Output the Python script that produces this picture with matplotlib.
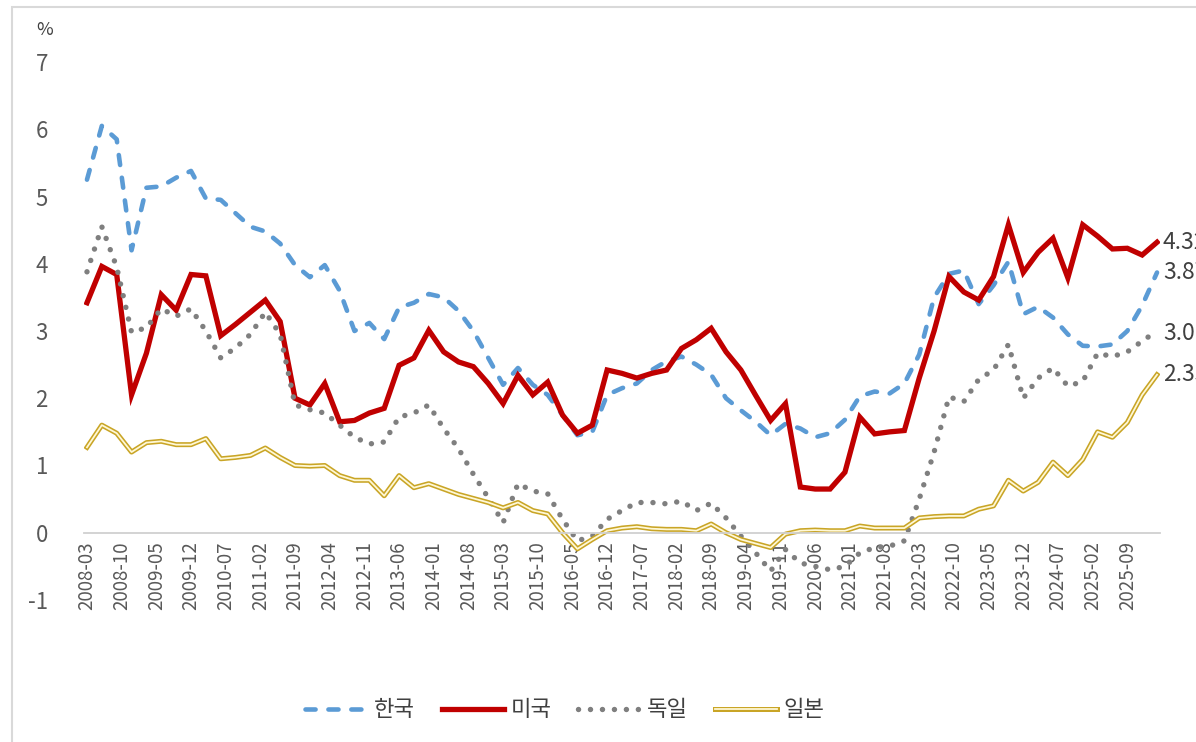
import numpy as np
import matplotlib
matplotlib.use("Agg")
import matplotlib.pyplot as plt
from matplotlib.patches import Rectangle
from matplotlib.legend_handler import HandlerTuple

plt.rcParams['font.family'] = ['Noto Sans CJK KR', 'DejaVu Sans']
plt.rcParams['axes.unicode_minus'] = False

# 분기별 국채 10년물 금리 (%), 2008-03 부터 3개월 간격
months = np.arange(0, 217, 3)

korea = [5.25, 6.05, 5.85, 4.2, 5.13, 5.15, 5.28, 5.38, 4.97, 4.95,
         4.75, 4.55, 4.48, 4.3, 3.98, 3.8, 3.98, 3.6, 3.0, 3.12,
         2.88, 3.35, 3.42, 3.55, 3.5, 3.3, 3.0, 2.6, 2.2, 2.45,
         2.2, 2.05, 1.75, 1.45, 1.5, 2.05, 2.15, 2.22, 2.42, 2.55,
         2.62, 2.5, 2.35, 2.0, 1.82, 1.65, 1.45, 1.62, 1.55, 1.42,
         1.48, 1.68, 2.03, 2.1, 2.07, 2.22, 2.65, 3.5, 3.85, 3.9,
         3.4, 3.68, 4.03, 3.25, 3.36, 3.2, 2.95, 2.78, 2.77, 2.8,
         3.0, 3.38, 3.87]

usa = [3.42, 3.96, 3.84, 2.05, 2.67, 3.54, 3.31, 3.84, 3.82, 2.93,
       3.1, 3.28, 3.46, 3.14, 2.0, 1.9, 2.22, 1.65, 1.67, 1.78,
       1.85, 2.49, 2.6, 3.01, 2.69, 2.54, 2.47, 2.22, 1.92, 2.34,
       2.05, 2.24, 1.75, 1.48, 1.6, 2.42, 2.37, 2.3, 2.37, 2.42,
       2.74, 2.87, 3.04, 2.69, 2.42, 2.04, 1.67, 1.92, 0.68, 0.65,
       0.65, 0.9, 1.72, 1.47, 1.5, 1.52, 2.3, 3.0, 3.81, 3.58,
       3.46, 3.81, 4.58, 3.87, 4.17, 4.38, 3.79, 4.58, 4.41, 4.22,
       4.23, 4.13, 4.32]

germany = [3.88, 4.55, 3.95, 2.98, 3.05, 3.33, 3.22, 3.33, 3.0, 2.6,
           2.75, 2.95, 3.28, 2.95, 1.9, 1.83, 1.78, 1.6, 1.42, 1.32,
           1.35, 1.72, 1.78, 1.9, 1.55, 1.25, 0.87, 0.52, 0.15, 0.73,
           0.62, 0.58, 0.2, -0.12, -0.05, 0.2, 0.33, 0.45, 0.45, 0.43,
           0.47, 0.33, 0.44, 0.22, -0.05, -0.3, -0.57, -0.25, -0.45, -0.5,
           -0.55, -0.5, -0.3, -0.22, -0.2, -0.12, 0.5, 1.2, 2.02, 1.95,
           2.28, 2.42, 2.8, 2.0, 2.3, 2.45, 2.18, 2.25, 2.67, 2.62,
           2.69, 2.85, 3.0]

japan = [1.27, 1.6, 1.48, 1.2, 1.34, 1.36, 1.31, 1.31, 1.4, 1.1,
         1.12, 1.15, 1.26, 1.12, 1.0, 0.99, 1.0, 0.85, 0.78, 0.78,
         0.55, 0.85, 0.67, 0.73, 0.65, 0.57, 0.51, 0.45, 0.37, 0.45,
         0.33, 0.28, 0.0, -0.24, -0.1, 0.03, 0.07, 0.09, 0.06, 0.05,
         0.05, 0.03, 0.13, 0.0, -0.1, -0.16, -0.22, -0.02, 0.03, 0.04,
         0.03, 0.03, 0.1, 0.07, 0.07, 0.07, 0.22, 0.24, 0.25, 0.25,
         0.35, 0.4, 0.78, 0.62, 0.75, 1.05, 0.85, 1.09, 1.5, 1.42,
         1.64, 2.05, 2.35]

end_labels = ['4.32', '3.87', '3.06', '2.35']
end_label_y = [4.32, 3.87, 2.97, 2.35]

tick_labels = ['2008-03', '2008-10', '2009-05', '2009-12', '2010-07', '2011-02',
               '2011-09', '2012-04', '2012-11', '2013-06', '2014-01', '2014-08',
               '2015-03', '2015-10', '2016-05', '2016-12', '2017-07', '2018-02',
               '2018-09', '2019-04', '2019-11', '2020-06', '2021-01', '2021-08',
               '2022-03', '2022-10', '2023-05', '2023-12', '2024-07', '2025-02',
               '2025-09']
tick_pos = np.arange(len(tick_labels)) * 7

fig = plt.figure(figsize=(11.96, 7.42), dpi=100)
ax = fig.add_axes([84 / 1196, 1 - 600 / 742, 1076 / 1196, 538 / 742])

# 테두리
fig.add_artist(Rectangle((12 / 1196, -0.05), 1.1, 1.05 - 7 / 742,
                         transform=fig.transFigure, fill=False,
                         edgecolor='#D9D9D9', lw=1.5))

for s in ['top', 'right', 'left']:
    ax.spines[s].set_visible(False)
ax.spines['bottom'].set_position(('data', 0))
ax.spines['bottom'].set_color('#D0D0D0')
ax.spines['bottom'].set_linewidth(1.3)

l_kr, = ax.plot(months, korea, color='#5B9BD5', lw=3.3,
                linestyle=(0, (2.2, 2.8)), dash_capstyle='round')
l_us, = ax.plot(months, usa, color='#C00000', lw=3.8, solid_joinstyle='miter')
l_de, = ax.plot(months, germany, color='#7F7F7F', lw=3.9,
                linestyle=(0, (0.01, 2.2)), dash_capstyle='round')
l_jp1, = ax.plot(months, japan, color='#C9A526', lw=3.6)
l_jp2, = ax.plot(months, japan, color='#FFF8D6', lw=1.3)

for txt, yv in zip(end_labels, end_label_y):
    ax.text(months[-1] + 1.2, yv, txt, fontsize=16.5, color='#404040',
            va='center', ha='left', clip_on=False)

ax.set_xlim(-0.6, 216.6)
ax.set_ylim(-1, 7)
ax.set_yticks(range(-1, 8))
ax.set_xticks(tick_pos)
ax.set_xticklabels(tick_labels)
ax.tick_params(axis='y', length=0, pad=26, labelsize=16, labelcolor='#595959')
ax.tick_params(axis='x', length=0, pad=6, labelrotation=90, labelsize=13.5,
               labelcolor='#595959')

fig.text(36 / 1196, 1 - 30 / 742, '%', fontsize=13, color='#404040', va='center')

leg = fig.legend([l_kr, l_us, l_de, (l_jp1, l_jp2)], ['한국', '미국', '독일', '일본'],
                 handler_map={tuple: HandlerTuple(ndivide=1)},
                 loc='center', bbox_to_anchor=(565 / 1196, 1 - 710 / 742),
                 ncol=4, frameon=False, fontsize=16, handlelength=2.8,
                 columnspacing=1.2, handletextpad=0.3, labelcolor='#404040')

fig.savefig('out.png', dpi=100)
